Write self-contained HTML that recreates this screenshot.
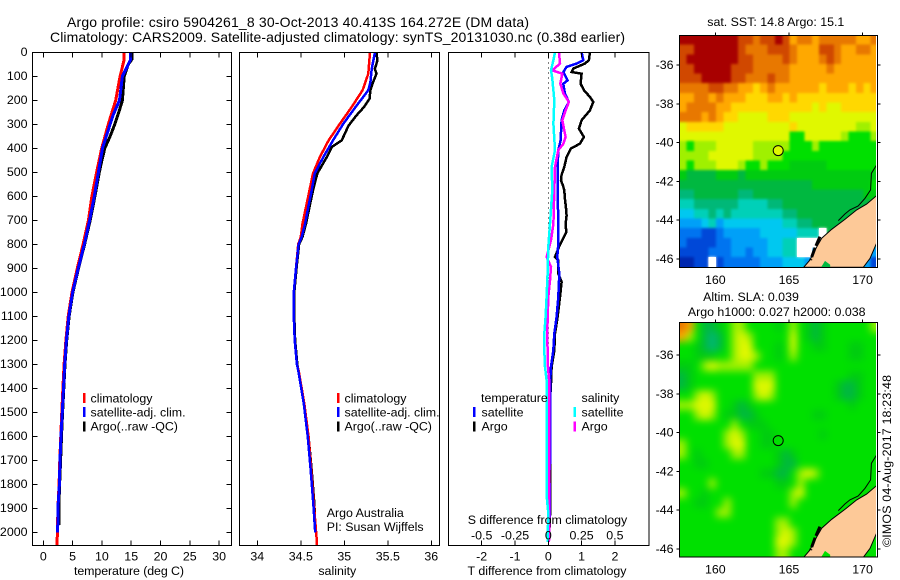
<!DOCTYPE html>
<html lang="en">
<head>
<meta charset="utf-8">
<title>Argo profile csiro 5904261_8</title>
<style>
html,body{margin:0;padding:0;background:#fff;}
svg{display:block;}
text{font-family:"Liberation Sans",sans-serif;font-size:12.4px;fill:#000;}
.title{font-size:14px;}
</style>
</head>
<body>
<svg id="chart" xmlns="http://www.w3.org/2000/svg" width="900" height="580" viewBox="0 0 900 580">
<rect width="900" height="580" fill="#fff"/>
<defs>
<clipPath id="clip-temp"><rect x="32" y="52" width="199.5" height="493"/></clipPath>
<clipPath id="clip-sal"><rect x="239.5" y="52" width="200" height="493"/></clipPath>
<clipPath id="clip-diff"><rect x="448.5" y="52" width="200.5" height="493"/></clipPath>
<clipPath id="clip-sst"><rect x="679.3" y="35" width="196.7" height="232.3"/></clipPath>
<clipPath id="clip-sla"><rect x="679.3" y="322.3" width="196.7" height="234.7"/></clipPath>
<filter id="soften-sst" filterUnits="userSpaceOnUse" x="640" y="0" width="260" height="300" color-interpolation-filters="sRGB"><feGaussianBlur stdDeviation="1.4"/></filter>
<filter id="soften-sla" filterUnits="userSpaceOnUse" x="640" y="290" width="260" height="290" color-interpolation-filters="sRGB"><feGaussianBlur stdDeviation="4"/></filter>
</defs>
<g id="marks"></g>
<g id="axes"></g>

<text class="title" x="67" y="27" textLength="462">Argo profile: csiro 5904261_8 30-Oct-2013 40.413S 164.272E (DM data)</text>
<text class="title" x="50" y="42" textLength="575">Climatology: CARS2009. Satellite-adjusted climatology: synTS_20131030.nc (0.38d earlier)</text>

<text x="74" y="575" textLength="110">temperature (deg C)</text>
<text x="337.3" y="575" text-anchor="middle">salinity</text>
<text x="467.5" y="575" textLength="159">T difference from climatology</text>
<text x="467.7" y="524" textLength="159.5">S difference from climatology</text>

<g>
<rect x="83" y="393" width="2.5" height="10" fill="#f00"/>
<rect x="83" y="407" width="2.5" height="10" fill="#00f"/>
<rect x="83" y="421.5" width="2.5" height="10" fill="#000"/>
<text x="90.5" y="402.5">climatology</text>
<text x="90.5" y="416.5">satellite-adj. clim.</text>
<text x="90.5" y="430.5">Argo(..raw -QC)</text>
</g>
<g>
<rect x="337" y="393" width="2.5" height="10" fill="#f00"/>
<rect x="337" y="407" width="2.5" height="10" fill="#00f"/>
<rect x="337" y="421.5" width="2.5" height="10" fill="#000"/>
<text x="344.5" y="402.5">climatology</text>
<text x="344.5" y="416.5">satellite-adj. clim.</text>
<text x="344.5" y="430.5">Argo(..raw -QC)</text>
</g>
<g>
<text x="481" y="402">temperature</text>
<text x="581.5" y="402">salinity</text>
<rect x="473" y="407" width="2.5" height="10" fill="#00f"/>
<rect x="473" y="421.5" width="2.5" height="10" fill="#000"/>
<rect x="573.5" y="407" width="2.5" height="10" fill="#0ff"/>
<rect x="573.5" y="421.5" width="2.5" height="10" fill="#f0f"/>
<text x="481.5" y="416.5">satellite</text>
<text x="481.5" y="430.5">Argo</text>
<text x="581.5" y="416.5">satellite</text>
<text x="581.5" y="430.5">Argo</text>
</g>
<text x="326.7" y="517">Argo Australia</text>
<text x="326.7" y="531">PI: Susan Wijffels</text>

<text x="775.8" y="26" text-anchor="middle">sat. SST: 14.8 Argo: 15.1</text>
<text x="751" y="301" text-anchor="middle">Altim. SLA: 0.039</text>
<text x="776.7" y="316" text-anchor="middle">Argo h1000: 0.027 h2000: 0.038</text>
<text transform="translate(891,547) rotate(-90)" textLength="172">©IMOS 04-Aug-2017 18:23:48</text>
</svg>

<script>
// ---------- profile panel data ----------
const depthTicks = [0,100,200,300,400,500,600,700,800,900,1000,1100,1200,1300,1400,1500,1600,1700,1800,1900,2000];
const tempTicks = [0,5,10,15,20,25,30];
const salTicks = [34,34.5,35,35.5,36];
const tDiffTicks = [-2,-1,0,1,2];
const sDiffTicks = [-0.5,-0.25,0,0.25,0.5];

const tempClimDepth = [0,30,100,200,300,400,500,600,700,800,900,1000,1100,1200,1300,1400,1500,1600,1700,1800,1900,2000,2054];
const tempClimValue = [13.8,13.8,13.1,12.35,11.1,9.96,9.1,8.3,7.7,6.8,5.8,4.9,4.25,3.85,3.55,3.35,3.15,2.98,2.82,2.7,2.5,2.42,2.3];
const tempSatDepth = [0,30,50,100,200,260,300,400,500,600,700,800,900,1000,1100,1200,1300,1400,1500,1600,1700,1800,1900,2000];
const tempSatValue = [14.9,14.9,14.5,13.5,13.0,11.95,11.4,10.1,9.4,8.7,7.9,7.0,5.95,5.0,4.35,3.95,3.65,3.45,3.25,3.02,2.85,2.75,2.5,2.45];
const tempArgoDepth = [0,30,50,100,200,210,300,350,400,450,500,600,700,800,900,1000,1100,1200,1300,1400,1500,1600,1700,1800,1900,1970];
const tempArgoValue = [15.1,15.1,14.5,13.8,13.5,13.4,12.2,11.4,10.5,10.0,9.55,8.8,8.0,7.05,6.0,5.05,4.4,4.0,3.7,3.5,3.3,3.1,2.95,2.78,2.65,2.65];

const salClimDepth = [0,89,158,228,297,367,436,505,575,644,714,769,800,900,1000,1100,1200,1300,1325,1464,1603,1742,1880,2019,2054];
const salClimValue = [35.295,35.276,35.21,35.085,34.95,34.82,34.72,34.64,34.6,34.56,34.52,34.5,34.47,34.445,34.42,34.42,34.43,34.455,34.475,34.54,34.59,34.62,34.65,34.68,34.685];
const salSatDepth = [0,69,125,158,228,297,367,436,505,575,644,714,769,800,900,1000,1100,1200,1300,1325,1464,1603,1742,1880,2000];
const salSatValue = [35.353,35.315,35.3,35.276,35.13,34.99,34.87,34.76,34.66,34.625,34.586,34.55,34.51,34.475,34.445,34.42,34.42,34.43,34.455,34.47,34.535,34.58,34.614,34.644,34.665];
const salArgoDepth = [0,35,69,89,125,158,194,228,263,305,367,395,436,505,575,644,714,769,800,900,1000,1100,1200,1300,1464,1603,1742,1880,1960];
const salArgoValue = [35.37,35.38,35.35,35.37,35.33,35.3,35.29,35.226,35.14,35.05,34.97,34.855,34.8,34.69,34.64,34.6,34.56,34.52,34.48,34.45,34.425,34.425,34.435,34.46,34.54,34.59,34.625,34.655,34.665];

const dtSatDepth = [0,33,47,61,82,117,131,172,207,242,283,367,408,478,575,714,797,853,922,1019,1103,1172,1242,1311,1380,1714,1750,1900,2030];
const dtSatValue = [1.0,1.05,0.85,0.55,0.45,0.58,0.45,0.5,0.62,0.48,0.4,0.37,0.3,0.28,0.28,0.3,0.3,0.27,0.33,0.3,0.25,0.18,0.15,0.08,0.05,0.05,0.03,0.05,0];
const dtArgoDepth = [0,33,47,68,82,89,131,158,186,207,242,283,318,353,381,401,436,478,510,533,560,575,610,644,680,714,750,783,811,853,867,922,957,1019,1103,1172,1242,1311,1380,1450,1714,1900,2030];
const dtArgoValue = [1.25,1.22,1.1,0.75,0.7,1.0,0.97,1.07,1.25,1.35,1.25,1.0,0.92,1.07,0.95,0.68,0.55,0.48,0.4,0.38,0.45,0.48,0.5,0.53,0.55,0.52,0.54,0.42,0.32,0.2,0.3,0.3,0.4,0.35,0.28,0.2,0.18,0.1,0.08,0.05,0.05,0.06,0.02];
const dsSatDepth = [0,33,75,110,200,297,408,478,575,714,811,922,1019,1103,1172,1242,1311,1380,1714,1850,1920,2040];
const dsSatValue = [0.05,0.038,0.02,0.03,0.045,0.038,0.05,0.025,0.03,0.013,0,-0.005,-0.013,-0.02,-0.03,-0.03,-0.025,-0.01,-0.012,-0.012,0,-0.005];
const dsArgoDepth = [0,47,75,89,131,172,207,242,283,353,381,408,478,575,714,783,853,894,950,1019,1172,1311,1380,1714,2040];
const dsArgoValue = [0.08,0.088,0.03,0.105,0.09,0.113,0.155,0.13,0.105,0.13,0.113,0.075,0.05,0.045,0.038,0.02,-0.013,0.02,0.013,0,-0.008,-0.002,0.008,0.008,0.005];

// ---------- map data: colour-scale level per 0.5 degree cell, null = no data ----------
const lonTicks = [160,165,170];
const latTicks = [-36,-38,-40,-42,-44,-46];
const colourScale = ['#0028b0','#0048d8','#0074f0','#00a0f8','#00c8f0','#00d0b8','#00b878','#00b840','#00cc10','#00e000','#a0f000','#e0f800','#ffd800','#ffa800','#e87800','#d04800','#a80000'];
const argoLon = 164.272;
const argoLat = -40.413;
const argoSstLevel = 11;
const argoSlaLevel = 9;

const sstLevels = [
[16,16,16,16,16,16,16,16,15,15,14,15,15,16,15,13,14,14,13,14,14,14,14,14,13,13,14],
[15,15,16,16,16,16,16,16,15,14,14,14,15,15,15,14,13,13,13,15,15,14,13,13,14,14,13],
[15,16,16,16,16,16,16,16,15,15,14,14,14,14,15,14,13,13,13,14,15,14,13,13,13,13,13],
[15,15,16,16,16,16,16,15,15,15,14,14,14,14,14,13,13,13,13,13,14,13,13,13,13,13,13],
[15,15,15,16,16,16,16,15,15,14,14,14,15,14,14,13,13,13,13,13,13,13,13,13,13,13,13],
[14,14,14,14,15,15,14,14,13,13,12,13,14,13,13,13,13,13,13,12,13,13,13,12,13,12,13],
[13,13,14,14,13,14,13,13,13,12,12,12,13,13,12,13,12,12,12,12,12,12,12,12,12,12,12],
[13,14,14,14,14,13,13,12,12,12,12,12,12,12,12,12,12,12,11,12,11,11,12,12,12,12,12],
[14,14,14,13,14,13,12,12,11,11,11,11,12,12,12,11,11,11,11,11,11,11,11,11,11,11,11],
[11,12,12,12,12,12,11,11,11,11,11,11,11,11,11,12,11,11,11,11,11,11,11,11,10,10,11],
[11,11,11,11,11,11,11,11,11,11,11,11,11,11,11,9,9,11,11,11,11,11,10,9,9,9,10],
[10,9,10,10,10,11,11,11,11,11,10,10,10,10,10,9,9,9,10,9,9,9,9,9,9,9,9],
[10,10,10,10,11,11,11,11,11,11,10,10,10,10,9,9,9,9,9,9,9,9,9,9,9,9,9],
[10,9,10,10,10,11,11,11,10,9,9,10,9,9,9,8,8,8,8,8,9,9,9,9,9,9,9],
[8,7,7,7,7,8,8,8,7,8,8,8,8,8,8,8,8,8,8,8,8,8,8,8,8,8,8],
[7,7,7,7,7,7,7,7,7,7,7,7,7,7,7,7,7,7,8,8,8,8,8,8,8,8,9],
[6,6,7,7,7,7,7,7,6,6,7,7,7,7,7,7,7,7,7,7,7,7,7,7,7,8,8],
[5,5,6,6,6,6,6,6,5,5,5,5,6,6,7,7,7,7,7,7,7,7,7,7,7,7,7],
[4,4,5,5,6,5,6,5,5,5,5,5,5,5,6,6,7,7,7,7,7,7,7,7,7,7,7],
[3,3,3,4,5,3,4,4,4,4,4,4,4,4,5,5,6,6,7,7,7,7,7,7,7,7,7],
[2,2,2,1,1,2,3,3,3,3,3,4,4,4,4,4,5,5,5,null,7,7,7,7,7,7,7],
[2,1,1,1,1,2,2,3,3,3,3,3,4,4,5,5,null,null,null,null,7,7,7,7,7,7,5],
[1,1,1,1,2,2,2,3,3,2,3,3,4,4,5,5,null,null,3,3,7,7,7,7,7,5,3],
[0,0,1,1,null,1,2,2,2,2,2,3,3,3,4,4,4,3,3,3,7,7,7,7,7,3,1]
];

const slaLevels = [
[14,13,9,7,7,8,9,10,10,9,9,9,9,8,9,10,9,8,7,8,9,9,9,9,9,9,10],
[13,10,9,7,6,7,9,10,11,10,9,9,9,9,9,11,9,8,7,8,9,9,9,9,9,9,9],
[9,9,8,7,6,7,9,10,11,11,9,9,9,8,9,11,9,9,8,8,9,9,9,8,8,9,9],
[9,9,8,8,8,9,9,10,11,11,10,9,9,8,9,10,9,9,9,9,9,9,9,8,8,9,9],
[8,8,9,10,11,10,10,10,10,10,9,9,9,9,9,9,9,9,9,9,9,9,9,9,9,9,9],
[7,8,9,9,9,9,9,9,9,9,10,10,10,9,9,9,9,9,9,9,9,9,9,8,8,9,9],
[7,8,9,9,9,9,9,9,9,9,11,11,11,9,9,9,9,9,9,9,9,8,7,7,8,9,9],
[9,9,10,11,10,9,9,9,9,9,10,11,10,9,9,9,9,9,9,9,9,8,7,7,8,9,9],
[10,10,11,11,11,9,9,8,7,8,9,9,9,9,9,9,9,9,9,9,9,9,9,8,9,9,9],
[9,9,10,11,10,9,8,8,7,7,8,9,9,9,9,9,9,9,8,8,9,9,9,9,9,9,9],
[9,9,9,9,9,9,9,10,9,8,8,8,9,9,9,9,9,9,9,9,9,9,9,9,9,9,9],
[9,9,9,9,9,9,10,11,10,9,9,8,8,9,9,9,9,9,9,8,9,9,9,9,9,9,9],
[10,9,9,9,9,9,10,11,11,9,9,8,8,9,9,9,9,9,9,9,9,9,9,9,9,9,9],
[10,9,8,9,9,9,9,10,10,9,9,9,9,8,7,8,9,9,9,9,9,9,9,9,9,9,9],
[9,9,8,8,9,9,9,9,9,9,9,9,9,8,7,7,9,9,9,9,9,9,9,9,9,9,9],
[9,9,9,9,9,9,9,9,9,9,9,8,8,7,7,9,10,11,10,9,9,9,9,9,9,9,9],
[9,9,9,9,10,9,9,9,9,9,9,9,9,8,8,9,10,9,9,9,9,9,9,9,9,9,9],
[10,9,9,8,9,9,9,9,9,9,9,9,9,9,9,10,11,9,9,9,9,9,9,9,9,9,9],
[9,9,8,8,9,9,10,9,9,9,9,9,9,9,9,10,9,9,9,9,9,9,9,9,9,9,9],
[9,9,9,9,9,10,10,9,9,9,9,9,9,9,9,9,9,9,9,9,9,9,9,9,9,9,9],
[9,9,9,9,9,9,9,9,9,9,9,9,9,10,10,9,9,9,9,9,9,9,9,9,9,9,9],
[9,9,9,9,9,9,9,9,9,9,9,9,9,10,11,10,9,9,9,9,9,9,9,9,9,9,9],
[9,9,9,9,9,9,9,9,9,9,9,9,9,11,11,10,9,9,9,9,9,9,9,9,9,9,9],
[9,9,9,9,9,9,9,9,9,9,9,9,9,10,10,9,9,9,9,9,9,9,9,9,9,9,9]
];

const landLon = [171,170.27,169.6,168.8,167.9,167.22,166.76,166.43,166,170.05,170.5,171];
const landLat = [-42.7,-43.17,-43.47,-43.96,-44.47,-44.93,-45.54,-46.05,-46.43,-46.43,-45.97,-45.1];
const contourLon = [171,170.6,170.54,170.16,169.7,169.14,168.8,168.35];
const contourLat = [-41.1,-41.58,-42.44,-42.87,-43.27,-43.47,-43.68,-44.02];
const fiordLon = [167.1,166.76,166.47];
const fiordLat = [-44.85,-45.45,-46.05];
const inletLon = [167.2,167.45,167.8,167.8,167.2];
const inletLat = [-46.4,-46.1,-46.3,-46.43,-46.43];

// ---------- scales ----------
const SVGNS = 'http://www.w3.org/2000/svg';
const marks = document.getElementById('marks');
const axes = document.getElementById('axes');
const PANEL_TOP = 52.5, PANEL_BOTTOM = 545.5;
function yDepth(d){ return 52.3 + d * 0.24; }
function xTemp(t){ return 43.3 + t * 5.86; }
function xSal(s){ return 257.3 + (s - 34) * 87; }
function xDt(v){ return 548.3 + v * 33.3; }
function xDs(v){ return 548.3 + v * 133.2; }
function xLon(lon){ return 715.3 + (lon - 160) * 14.73; }
function ySst(lat){ return 65 + (-36 - lat) * 19.4; }
function ySla(lat){ return 355 + (-36 - lat) * 19.4; }
function colourOf(level){ return colourScale[level]; }

function make(tag, parent){
  const el = document.createElementNS(SVGNS, tag);
  parent.appendChild(el);
  return el;
}
function line(x1, y1, x2, y2, name, parent){
  const el = make('line', parent);
  el.setAttribute('x1', x1);
  el.setAttribute('y1', y1);
  el.setAttribute('x2', x2);
  el.setAttribute('y2', y2);
  el.setAttribute('stroke', '#000');
  el.setAttribute('stroke-width', 1);
  el.setAttribute('shape-rendering', 'crispEdges');
  
  
  return el;
}
function label(x, y, str, anchor, name, parent){
  const el = make('text', parent);
  el.setAttribute('x', x);
  el.setAttribute('y', y);
  el.setAttribute('text-anchor', anchor);
  
  
  el.textContent = str;
  return el;
}
function frame(x, y, w, h, name, parent){
  const el = make('rect', parent);
  el.setAttribute('x', x);
  el.setAttribute('y', y);
  el.setAttribute('width', w);
  el.setAttribute('height', h);
  el.setAttribute('fill', 'none');
  el.setAttribute('stroke', '#000');
  el.setAttribute('stroke-width', 1);
  el.setAttribute('shape-rendering', 'crispEdges');
  
  
  return el;
}
function profile(depths, values, xFn, colour, width, clip, name){
  const el = make('polyline', marks);
  el.setAttribute('points', depths.map((d, i) => xFn(values[i]).toFixed(1) + ',' + yDepth(d).toFixed(1)).join(' '));
  el.setAttribute('fill', 'none');
  el.setAttribute('stroke', colour);
  el.setAttribute('stroke-width', width);
  el.setAttribute('shape-rendering', 'crispEdges');
  el.setAttribute('clip-path', 'url(#' + clip + ')');
  
  
}

// ---------- temperature panel ----------
profile(tempArgoDepth, tempArgoValue, xTemp, '#000', 3, 'clip-temp', 'temperature-argo-line');
profile(tempClimDepth, tempClimValue, xTemp, '#f00', 3, 'clip-temp', 'temperature-climatology-line');
profile(tempSatDepth, tempSatValue, xTemp, '#00f', 3, 'clip-temp', 'temperature-satellite-line');
frame(32.5, PANEL_TOP, 199, PANEL_BOTTOM - PANEL_TOP, 'temperature-panel-frame', axes);
depthTicks.forEach(function(d){
  line(32.5, yDepth(d), 37.5, yDepth(d), 'depth-tick-left', axes);
  line(226.5, yDepth(d), 231.5, yDepth(d), 'depth-tick-right', axes);
  label(27.5, yDepth(d) + 3.5, String(d), 'end', 'depth-tick-label', axes);
});
tempTicks.forEach(function(t){
  line(xTemp(t), PANEL_TOP, xTemp(t), PANEL_TOP + 5, 'temperature-tick-top', axes);
  line(xTemp(t), PANEL_BOTTOM, xTemp(t), PANEL_BOTTOM - 5, 'temperature-tick-bottom', axes);
  label(xTemp(t), 560.5, String(t), 'middle', 'temperature-tick-label', axes);
});

// ---------- salinity panel ----------
profile(salArgoDepth, salArgoValue, xSal, '#000', 2.5, 'clip-sal', 'salinity-argo-line');
profile(salClimDepth, salClimValue, xSal, '#f00', 2.5, 'clip-sal', 'salinity-climatology-line');
profile(salSatDepth, salSatValue, xSal, '#00f', 2.5, 'clip-sal', 'salinity-satellite-line');
frame(239.5, PANEL_TOP, 200, PANEL_BOTTOM - PANEL_TOP, 'salinity-panel-frame', axes);
salTicks.forEach(function(s){
  line(xSal(s), PANEL_TOP, xSal(s), PANEL_TOP + 5, 'salinity-tick-top', axes);
  line(xSal(s), PANEL_BOTTOM, xSal(s), PANEL_BOTTOM - 5, 'salinity-tick-bottom', axes);
  label(xSal(s), 560.5, String(s), 'middle', 'salinity-tick-label', axes);
});

// ---------- difference panel ----------
const zeroLine = line(548.5, PANEL_TOP, 548.5, PANEL_BOTTOM, 'zero-difference-line', marks);
zeroLine.setAttribute('stroke-dasharray', '1 4');
profile(dtArgoDepth, dtArgoValue, xDt, '#000', 2.5, 'clip-diff', 't-difference-argo-line');
profile(dtSatDepth, dtSatValue, xDt, '#00f', 2.5, 'clip-diff', 't-difference-satellite-line');
profile(dsArgoDepth, dsArgoValue, xDs, '#f0f', 2.5, 'clip-diff', 's-difference-argo-line');
profile(dsSatDepth, dsSatValue, xDs, '#0ff', 2.5, 'clip-diff', 's-difference-satellite-line');
frame(448.5, PANEL_TOP, 200.5, PANEL_BOTTOM - PANEL_TOP, 'difference-panel-frame', axes);
tDiffTicks.forEach(function(v){
  line(xDt(v), PANEL_TOP, xDt(v), PANEL_TOP + 5, 't-difference-tick-top', axes);
  line(xDt(v), PANEL_BOTTOM, xDt(v), PANEL_BOTTOM - 5, 't-difference-tick-bottom', axes);
  label(xDt(v), 560.5, String(v), 'middle', 't-difference-tick-label', axes);
});
sDiffTicks.forEach(function(v){
  label(xDs(v), 539.5, String(v), 'middle', 's-difference-tick-label', axes);
});

// ---------- maps ----------
function drawMap(levels, yFn, latTop, latBottom, argoLevel, waterLevel, clip, prefix, left, top, w, h){
  const g = make('g', marks);
  g.setAttribute('clip-path', 'url(#' + clip + ')');
  
  
  const field = make('g', g);
  field.setAttribute('filter', 'url(#soften-' + prefix + ')');
  
  
  const gaps = make('g', g);
  
  
  const lonStart = 157.55, lonStep = 0.5;
  const latStep = (latTop - latBottom) / levels.length;
  const bleed = 14;
  levels.forEach(function(row, r){
    row.forEach(function(level, c){
      let x0 = xLon(lonStart + c * lonStep);
      let x1 = xLon(lonStart + (c + 1) * lonStep);
      let y0 = yFn(latTop - r * latStep);
      let y1 = yFn(latTop - (r + 1) * latStep);
      if (level !== null) {
        if (c === 0) x0 -= bleed;
        if (c === row.length - 1) x1 += bleed;
        if (r === 0) y0 -= bleed;
        if (r === levels.length - 1) y1 += bleed;
      }
      const cell = make('rect', level === null ? gaps : field);
      cell.setAttribute('x', x0.toFixed(2));
      cell.setAttribute('y', y0.toFixed(2));
      cell.setAttribute('width', (x1 - x0).toFixed(2));
      cell.setAttribute('height', (y1 - y0).toFixed(2));
      cell.setAttribute('fill', level === null ? '#fff' : colourOf(level));
      cell.setAttribute('shape-rendering', 'crispEdges');
      
      
    });
  });
  const land = make('polygon', g);
  land.setAttribute('points', landLon.map((v, i) => xLon(v).toFixed(1) + ',' + yFn(landLat[i]).toFixed(1)).join(' '));
  land.setAttribute('fill', '#fdc998');
  land.setAttribute('stroke', '#000');
  land.setAttribute('stroke-width', 1);
  
  
  const inlet = make('polygon', g);
  inlet.setAttribute('points', inletLon.map((v, i) => xLon(v).toFixed(1) + ',' + yFn(inletLat[i]).toFixed(1)).join(' '));
  inlet.setAttribute('fill', colourOf(waterLevel));
  
  
  const contour = make('polyline', g);
  contour.setAttribute('points', contourLon.map((v, i) => xLon(v).toFixed(1) + ',' + yFn(contourLat[i]).toFixed(1)).join(' '));
  contour.setAttribute('fill', 'none');
  contour.setAttribute('stroke', '#000');
  contour.setAttribute('stroke-width', 1);
  
  
  const fiord = make('polyline', g);
  fiord.setAttribute('points', fiordLon.map((v, i) => xLon(v).toFixed(1) + ',' + yFn(fiordLat[i]).toFixed(1)).join(' '));
  fiord.setAttribute('fill', 'none');
  fiord.setAttribute('stroke', '#000');
  fiord.setAttribute('stroke-width', 3);
  fiord.setAttribute('stroke-dasharray', '10 2');
  
  
  const marker = make('circle', g);
  marker.setAttribute('cx', xLon(argoLon).toFixed(1));
  marker.setAttribute('cy', yFn(argoLat).toFixed(1));
  marker.setAttribute('r', 5);
  marker.setAttribute('fill', colourOf(argoLevel));
  marker.setAttribute('stroke', '#000');
  marker.setAttribute('stroke-width', 1);
  
  

  frame(left, top, w, h, prefix + '-map-frame', axes);
  lonTicks.forEach(function(lon){
    line(xLon(lon), top, xLon(lon), top - 3, prefix + '-lon-tick', axes);
    label(xLon(lon), top + h + 16.5, String(lon), 'middle', prefix + '-lon-tick-label', axes);
  });
  latTicks.forEach(function(lat){
    line(left, yFn(lat), left - 3, yFn(lat), prefix + '-lat-tick-left', axes);
    line(left + w, yFn(lat), left + w + 3, yFn(lat), prefix + '-lat-tick-right', axes);
    label(left - 6, yFn(lat) + 4, String(lat), 'end', prefix + '-lat-tick-label', axes);
  });
}
drawMap(sstLevels, ySst, -34.45, -46.4, argoSstLevel, 7, 'clip-sst', 'sst', 679.5, 35.5, 198, 232);
drawMap(slaLevels, ySla, -34.3, -46.4, argoSlaLevel, 9, 'clip-sla', 'sla', 679.5, 322.5, 198, 234.5);
</script>
</body>
</html>
